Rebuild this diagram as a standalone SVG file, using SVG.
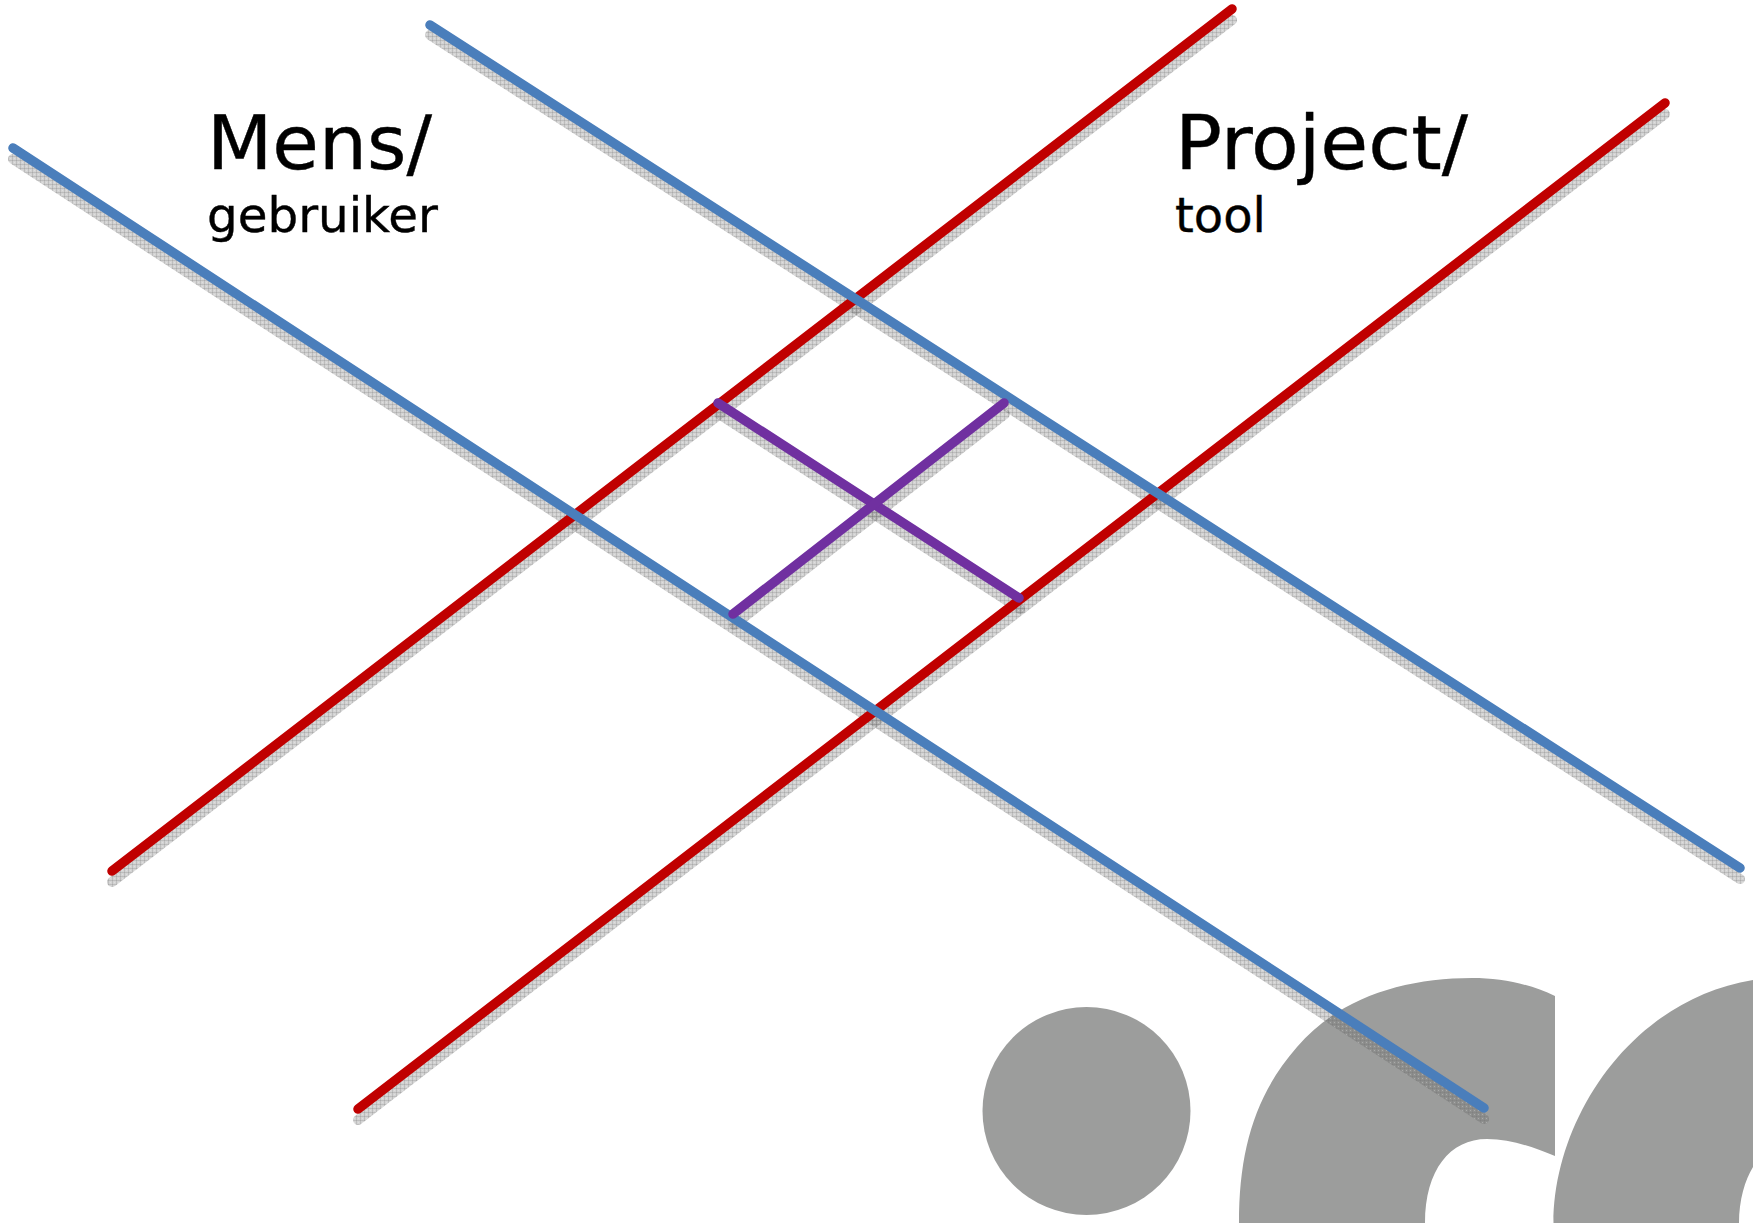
<svg xmlns="http://www.w3.org/2000/svg" width="1753" height="1223" viewBox="0 0 1753 1223">
<defs>
<pattern id="dither" width="4" height="4" patternUnits="userSpaceOnUse">
<rect width="4" height="4" fill="#6e6e6e" fill-opacity="0.3"/>
<rect width="1" height="4" fill="#6e6e6e" fill-opacity="0.22"/>
<rect width="4" height="1" fill="#6e6e6e" fill-opacity="0.22"/>
<rect x="2" y="2" width="1" height="1" fill="#ffffff" fill-opacity="0.25"/>
</pattern>
</defs>
<style>
.logo{fill:#9c9d9c}
.s{fill:none;stroke:url(#dither);stroke-width:10;stroke-linecap:round}
.l{fill:none;stroke-width:9.500;stroke-linecap:round}
.b{stroke:#4a7ebb}
.r{stroke:#c00000}
.p{stroke:#7030a0}
text{font-family:"DejaVu Sans",Verdana,sans-serif;fill:#000;stroke:#000;stroke-width:0.4px}
.big{font-size:74px}
.small{font-size:48px}
</style>
<rect width="1753" height="1223" fill="#fff"/>
<g id="logo">
<circle class="logo" cx="1086.500" cy="1111" r="104"/>
<path class="logo" d="M1239 1223C1239 1150 1255 1095 1297 1047C1340 997 1405 978 1472 978C1502 978 1530 984 1555 996L1555 1156C1530 1146 1510 1139 1487 1139C1450 1139 1425 1170 1425 1223Z"/>
<path class="logo" d="M1553.500 1223C1553.500 1120 1630 1000 1753 980L1753 1167C1745 1180 1739 1200 1739 1223Z"/>
</g>
<g id="connectors">
<g id="shadows">
<line class="s" x1="430" y1="35" x2="1740" y2="879"/>
<line class="s" x1="13" y1="159" x2="1484" y2="1119"/>
<line class="s" x1="1232" y1="20" x2="112" y2="882"/>
<line class="s" x1="1665" y1="114" x2="358" y2="1120"/>
<line class="s" x1="719" y1="414" x2="1020" y2="609"/>
<line class="s" x1="1005" y1="414" x2="734" y2="625"/>
</g>
<line class="l r" x1="1232" y1="9" x2="112" y2="871"/>
<line class="l r" x1="1665" y1="103" x2="358" y2="1109"/>
<line class="l b" x1="430" y1="25" x2="1740" y2="868"/>
<line class="l b" x1="13" y1="148" x2="1484" y2="1108"/>
<line class="l p" x1="718" y1="403" x2="1019" y2="598"/>
<line class="l p" x1="1004" y1="403" x2="733" y2="614"/>
</g>
<g id="label-mens">
<text class="big" x="207" y="169" textLength="225" lengthAdjust="spacingAndGlyphs">Mens/</text>
<text class="small" x="207" y="232" textLength="231" lengthAdjust="spacingAndGlyphs">gebruiker</text>
</g>
<g id="label-project">
<text class="big" x="1175" y="169" textLength="293" lengthAdjust="spacingAndGlyphs">Project/</text>
<text class="small" x="1175" y="232">tool</text>
</g>
</svg>
